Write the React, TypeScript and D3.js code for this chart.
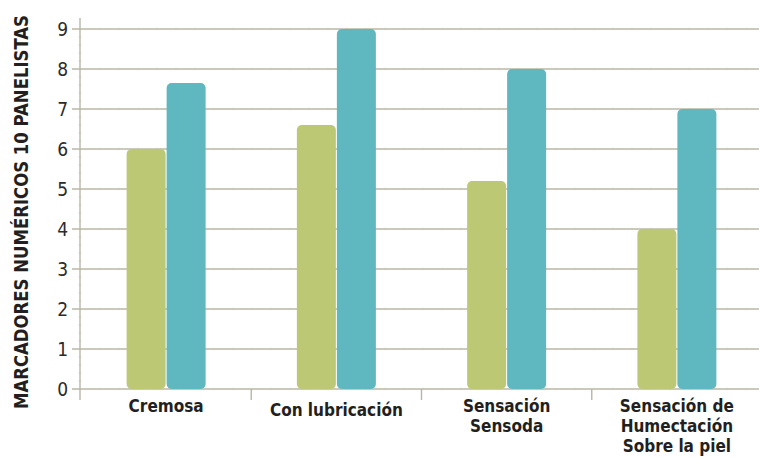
import React from "react";
import * as d3 from "d3";

const categories: string[][] = [
  ["Cremosa"],
  ["Con lubricación"],
  ["Sensación", "Sensoda"],
  ["Sensación de", "Humectación", "Sobre la piel"],
];
const seriesA = [6, 6.6, 5.2, 4];
const seriesB = [7.65, 9, 8, 7];
const yTicks = [0, 1, 2, 3, 4, 5, 6, 7, 8, 9];
const yLabel = "MARCADORES NUMÉRICOS 10 PANELISTAS";

const W = 759;
const H = 458;
const FONT = "'Liberation Sans Narrow', 'DejaVu Sans Condensed', sans-serif";

export default function App() {
  const x0 = 81;
  const x1 = 762;
  const y = d3.scaleLinear().domain([0, 9]).range([389, 29]);
  const x = d3
    .scaleBand<number>()
    .domain(categories.map((_, i) => i))
    .range([x0, x1])
    .paddingInner(0)
    .paddingOuter(0);
  const barW = 39;
  const gap = 1;
  const gridColor = "#b8b7a5";
  const minorXs = d3.range(x0 + 19, W, 19);
  const minorYs = d3.range(0, 9.01, 0.2).filter((v) => Math.abs(v - Math.round(v)) > 0.01);

  return (
    <svg width={W} height={H} style={{ position: "absolute", left: 0, top: 0 }}>
      <rect width={W} height={H} fill="#fff" />
      {yTicks.map((t) => (
        <g key={t}>
          <line x1={72} x2={W} y1={y(t)} y2={y(t)} stroke={gridColor} strokeWidth={1.6} />
          {minorXs.map((mx) => (
            <line key={mx} x1={mx} x2={mx} y1={y(t) - 1.2} y2={y(t) + 1.2} stroke="#c4c3b3" strokeWidth={0.6} />
          ))}
          <text
            x={68}
            y={y(t)}
            dy="0.36em"
            textAnchor="end"
            fontFamily={FONT}
            fontSize={19}
            fill="#2b2b2b"
          >
            {t}
          </text>
        </g>
      ))}
      <line x1={80} x2={80} y1={18} y2={400} stroke={gridColor} strokeWidth={1.4} />
      {minorYs.map((v) => (
        <line key={v} x1={78.5} x2={81.5} y1={y(v)} y2={y(v)} stroke="#c0bfae" strokeWidth={0.6} />
      ))}
      {categories.slice(1).map((_, i) => (
        <line
          key={i}
          x1={x(i + 1)!}
          x2={x(i + 1)!}
          y1={389}
          y2={400}
          stroke={gridColor}
          strokeWidth={1.4}
        />
      ))}
      {categories.map((_, i) => {
        const c = x(i)! + x.bandwidth() / 2;
        return (
          <g key={i}>
            <rect
              x={c - gap / 2 - barW}
              y={y(seriesA[i])}
              width={barW}
              height={y(0) - y(seriesA[i])}
              rx={5}
              fill="#bdc874"
            />
            <rect
              x={c + gap / 2}
              y={y(seriesB[i])}
              width={barW}
              height={y(0) - y(seriesB[i])}
              rx={5}
              fill="#5fb8c0"
            />
          </g>
        );
      })}
      {categories.map((lines, i) => {
        const c = x(i)! + x.bandwidth() / 2;
        const base = lines.length === 1 && i === 1 ? 416 : 412;
        return (
          <text
            key={i}
            x={c}
            y={base}
            textAnchor="middle"
            fontFamily={FONT}
            fontWeight="bold"
            fontSize={17}
            fill="#231f20"
          >
            {lines.map((l, j) => (
              <tspan key={j} x={c} y={base + j * 20}>
                {l}
              </tspan>
            ))}
          </text>
        );
      })}
      <text
        transform={`translate(28,212) rotate(-90)`}
        textAnchor="middle"
        fontFamily={FONT}
        fontWeight="bold"
        fontSize={19}
        fill="#231f20"
        textLength={394}
        lengthAdjust="spacingAndGlyphs"
      >
        {yLabel}
      </text>
    </svg>
  );
}
